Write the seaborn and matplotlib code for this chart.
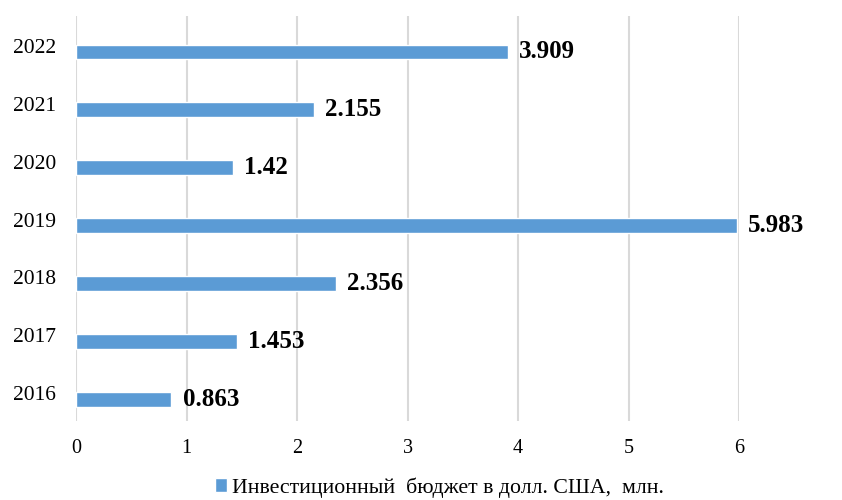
import matplotlib.pyplot as plt
import matplotlib.transforms as mtransforms
import seaborn as sns
import pandas as pd

years = ["2016", "2017", "2018", "2019", "2020", "2021", "2022"]
budget = [0.863, 1.453, 2.356, 5.983, 1.42, 2.155, 3.909]
value_labels = ["0.863", "1.453", "2.356", "5.983", "1.42", "2.155", "3.909"]
series_name = "Инвестиционный  бюджет в долл. США,  млн."

color = "#5B9BD5"

sns.set_style("white")
plt.rcParams["font.family"] = ["Liberation Serif", "DejaVu Serif"]
plt.rcParams["text.color"] = "black"
plt.rcParams["xtick.color"] = "black"
plt.rcParams["ytick.color"] = "black"

df = pd.DataFrame({"year": years, "budget": budget, "label": value_labels})
order = years[::-1]

fig = plt.figure(figsize=(8.42, 5.0), dpi=100)
ax = fig.add_axes([0.0903, 0.158, 0.7874, 0.810])

sns.barplot(data=df, x="budget", y="year", order=order, orient="h",
            color=color, width=0.255, saturation=1, ax=ax, label=series_name)

# bar labels in the drawn order
lab_map = dict(zip(years, value_labels))
bars = ax.containers[0]
ax.bar_label(bars, labels=[lab_map[y] for y in order], padding=8,
             fontsize=18, fontweight="bold", color="black", clip_on=False)

ax.set_xlim(0, 6)
# bars sit a bit below the middle of each category, as in the original
ax.set_ylim(6.378, -0.622)
ax.set_xticks(range(7))
ax.xaxis.grid(True, color="#D9D9D9", linewidth=1.5)
ax.set_axisbelow(True)
for s in ax.spines.values():
    s.set_visible(False)
ax.tick_params(axis="both", length=0)
ax.tick_params(axis="x", pad=13, labelsize=14.5)
ax.tick_params(axis="y", pad=14.5, labelsize=15.5)
ax.set_xlabel("")
ax.set_ylabel("")

# year labels are drawn slightly above the bars
shift = mtransforms.ScaledTranslation(0, 6 / 100, fig.dpi_scale_trans)
for lab in ax.get_yticklabels():
    lab.set_transform(lab.get_transform() + shift)

leg = ax.get_legend()
if leg is not None:
    leg.remove()
fig.legend(handles=[bars.patches[0]], labels=[series_name], loc="center",
           bbox_to_anchor=(0.522, 0.025), frameon=False, fontsize=15.7,
           handlelength=0.55, handleheight=0.55, handletextpad=0.2)

plt.savefig("out.png", dpi=100)
plt.close()
